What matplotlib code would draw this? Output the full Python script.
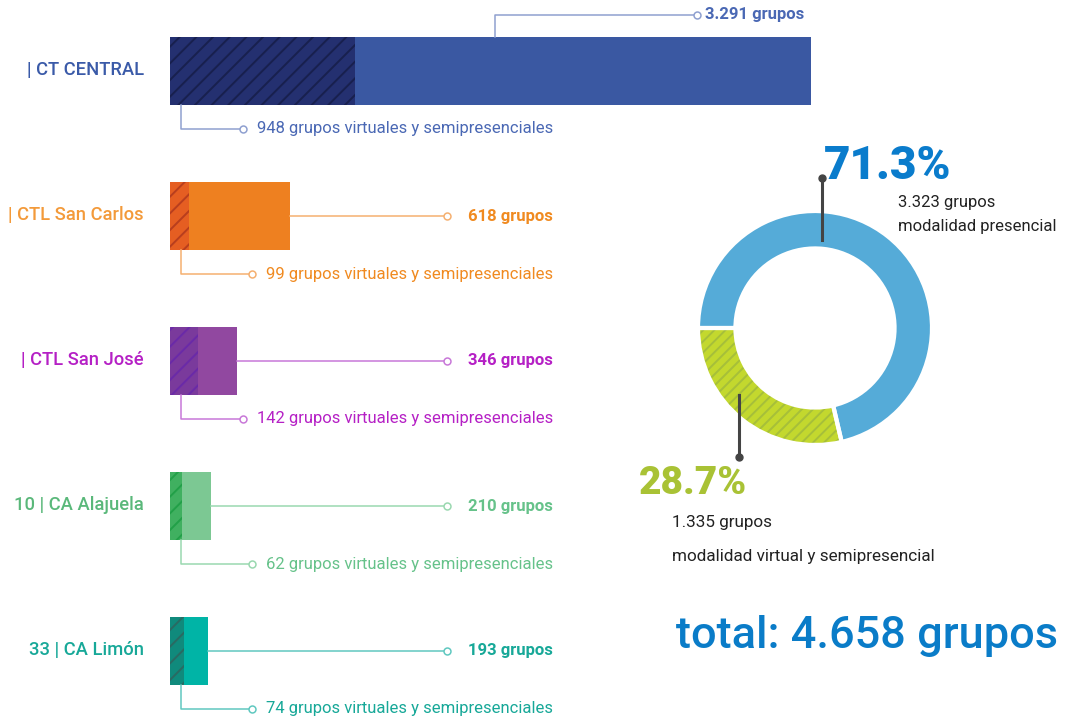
import matplotlib.pyplot as plt

plt.rcParams['font.family'] = ['Roboto', 'DejaVu Sans']
plt.rcParams['hatch.linewidth'] = 1.4

## Groups per campus
centers = ["| CT CENTRAL", "| CTL San Carlos", "| CTL San José", "10 | CA Alajuela", "33 | CA Limón"]
total_groups = [3291, 618, 346, 210, 193]
virtual_groups = [948, 99, 142, 62, 74]
total_labels = ["3.291 grupos", "618 grupos", "346 grupos", "210 grupos", "193 grupos"]
virtual_labels = [f"{v} grupos virtuales y semipresenciales" for v in virtual_groups]

## Groups per modality (donut)
modality_groups = [1335, 3323]          # virtual/semipresencial, presencial
modality_pct = ["28.7%", "71.3%"]
modality_count = ["1.335 grupos", "3.323 grupos"]
modality_names = ["modalidad virtual y semipresencial", "modalidad presencial"]
total_text = "total: 4.658 grupos"

# colours per campus
label_col = ["#3a5aa8", "#f39a3a", "#b520c5", "#5ab87a", "#17a898"]
text_col = ["#4a68b4", "#f08a20", "#b520c5", "#66c28a", "#17a898"]
bar_col = ["#3a58a2", "#ee8020", "#9148a0", "#7cc893", "#00b4a6"]
hatch_fill = ["#243070", "#e55e22", "#7a3a9c", "#40b060", "#108a7c"]
hatch_line = ["#18204e", "#b83e1e", "#6a2aa8", "#22a048", "#2a6a62"]
lead_col = ["#8fa0d0", "#f5b070", "#c878d8", "#9ad8b0", "#60c8c0"]

W, H = 1068, 721
X0, PX = 170, 641 / 3291        # bar origin in pixels, pixels per group
Y0, PITCH = 71, 145             # first bar centre and row pitch in pixels
BAR_H = 0.47

fig = plt.figure(figsize=(W / 100, H / 100), dpi=100)
ax = fig.add_axes([0, 0, 1, 1])
ax.set_xlim(-X0 / PX, (W - X0) / PX)
ax.set_ylim((H - Y0) / PITCH, -Y0 / PITCH)
ax.axis('off')


def gx(p):
    return (p - X0) / PX


def gy(p):
    return (p - Y0) / PITCH


rows = list(range(len(centers)))
ax.barh(rows, total_groups, height=BAR_H, color=bar_col, lw=0)
ax.barh(rows, virtual_groups, height=BAR_H, color=hatch_fill,
        edgecolor=hatch_line, hatch='//', lw=0)

size_lbl = 12
circ = dict(marker='o', ms=5, mfc='white', mew=1.1, ls='none')
vtexts = []
for i in rows:
    ax.text(gx(144), i - 0.01, centers[i], ha='right', va='center', color=label_col[i],
            fontsize=13.2, fontweight='medium')
    # total leader
    if i == 0:
        ax.plot([gx(495), gx(495), gx(697)], [i - BAR_H / 2, gy(15), gy(15)],
                color=lead_col[i], lw=1.1, zorder=1)
        ax.plot(gx(697), gy(15), mec=lead_col[i], **circ)
        ax.text(gx(705), gy(15), total_labels[i], ha='left', va='center',
                color=text_col[i], fontsize=size_lbl, fontweight='bold')
    else:
        ax.plot([total_groups[i], gx(447)], [i, i], color=lead_col[i], lw=1.1, zorder=1)
        ax.plot(gx(447), i, mec=lead_col[i], **circ)
        ax.text(gx(553), i, total_labels[i], ha='right', va='center',
                color=text_col[i], fontsize=size_lbl, fontweight='bold')
    # virtual leader text
    vy = i + 58 / PITCH
    t = ax.text(gx(553), vy, virtual_labels[i], ha='right', va='center',
                color=text_col[i], fontsize=size_lbl)
    vtexts.append((i, vy, t))

fig.canvas.draw()
rend = fig.canvas.get_renderer()
for i, vy, t in vtexts:
    left = t.get_window_extent(rend).x0
    xc = ax.transData.inverted().transform((left - 14, 0))[0]
    ax.plot([gx(181), gx(181), xc], [i + BAR_H / 2, vy, vy], color=lead_col[i], lw=1.1, zorder=1)
    ax.plot(xc, vy, mec=lead_col[i], **circ)

## Donut
CX, CY, R = 815, 328, 117
dax = fig.add_axes([(CX - R) / W, (H - CY - R) / H, 2 * R / W, 2 * R / H])
green, blue = "#c3d82e", "#55abd8"
wedges, _ = dax.pie(modality_groups, startangle=180, colors=[green, blue], radius=1,
                    wedgeprops=dict(width=0.32, lw=0))
wedges[0].set_hatch('///')
wedges[0].set_edgecolor("#a6bf3a")
wedges[0].set_linewidth(0)
dax.pie(modality_groups, startangle=180, colors=['none', 'none'], radius=1,
        wedgeprops=dict(width=0.32, edgecolor='white', lw=3))
dax.set_xlim(-1, 1)
dax.set_ylim(-1, 1)

lay = fig.add_axes([0, 0, 1, 1], facecolor='none')
lay.set_xlim(0, W)
lay.set_ylim(H, 0)
lay.axis('off')

dark = "#444444"
lay.plot([822, 822], [240, 178], color=dark, lw=2.2)
lay.plot(822, 178, 'o', color=dark, ms=5)
lay.text(824, 166, modality_pct[1], ha='left', va='center', color="#0a7ccc",
         fontsize=33, fontweight='black')
lay.text(898, 202, modality_count[1], ha='left', va='center', color="#222222", fontsize=12)
lay.text(898, 226, modality_names[1], ha='left', va='center', color="#222222", fontsize=12)

lay.plot([739, 739], [395, 457], color=dark, lw=2.2)
lay.plot(739, 457, 'o', color=dark, ms=5)
lay.text(639, 484, modality_pct[0], ha='left', va='center', color="#a9c235",
         fontsize=28, fontweight='black')
lay.text(672, 523, modality_count[0], ha='left', va='center', color="#222222", fontsize=12.3)
lay.text(672, 557, modality_names[0], ha='left', va='center', color="#222222", fontsize=12.3)

lay.text(676, 636, total_text, ha='left', va='center', color="#0a7cc8", fontsize=32.5,
         fontweight='medium')

fig.savefig("out.png", dpi=100)
